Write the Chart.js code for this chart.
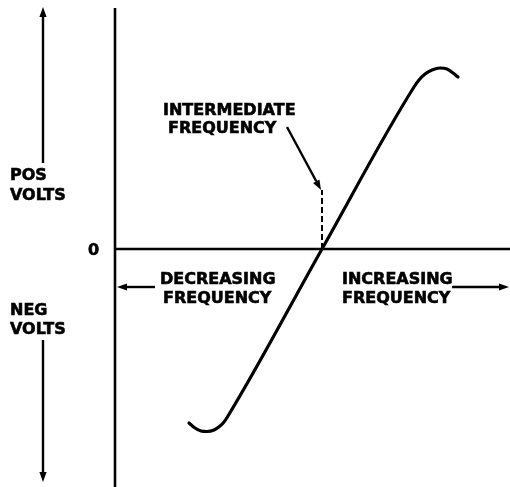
<!DOCTYPE html>
<html>
<head>
<meta charset="utf-8">
<script src="https://cdn.jsdelivr.net/npm/chart.js@4.4.0/dist/chart.umd.min.js"></script>
<style>
  html, body { margin: 0; padding: 0; background: #fff; }
  #wrap { width: 510px; height: 487px; position: relative; }
</style>
</head>
<body>
<div id="wrap"><canvas id="chart"></canvas></div>
<script>
// discriminator curve: frequency offset from the IF vs output volts (arbitrary units)
const freqOffset = [-13.3, -12.7, -12.1, -11.5, -10.8, -10.2, -9.8, -9.4, 0, 9.2, 9.7, 10.3, 11.0, 11.8, 12.5, 13.1, 13.6];
const volts      = [-17.4, -17.9, -18.2, -18.25, -18.1, -17.7, -17.3, -16.7, 0, 16.2, 16.9, 17.5, 17.9, 18.1, 18.0, 17.6, 17.2];

// axis extents
const freqRange = [-20.7, 18.8];
const voltRange = [-23.8, 24.1];
const ifMarkerTop = 5.9;

const ink = '#000';
const curve = freqOffset.map((f, i) => ({ x: f, y: volts[i] }));

// text labels and arrows, placed in data units
const labels = [
  ['POS', -31.2, 6.9], ['VOLTS', -31.2, 4.9],
  ['NEG', -31.2, -6.6], ['VOLTS', -31.2, -8.5],
  ['0', -23.4, -0.6],
  ['INTERMEDIATE', -15.9, 13.4], ['FREQUENCY', -15.4, 11.6],
  ['DECREASING', -16.2, -3.5], ['FREQUENCY', -15.9, -5.4],
  ['INCREASING', 2.0, -3.5], ['FREQUENCY', 2.0, -5.4]
];
const arrows = [
  [-27.9, 8.6, -27.9, 24.2],
  [-27.9, -9.1, -27.9, -23.3],
  [-16.7, -3.8, -20.5, -3.8],
  [13.0, -3.8, 18.7, -3.8],
  [-3.5, 12.2, -0.1, 5.9]
];

const annot = {
  id: 'annot',
  afterDatasetsDraw(chart) {
    const { ctx, scales: { x, y } } = chart;
    const px = v => x.getPixelForValue(v);
    const py = v => y.getPixelForValue(v);
    ctx.save();
    ctx.fillStyle = ink;
    ctx.strokeStyle = ink;
    ctx.font = 'bold 16px "DejaVu Sans"';
    ctx.textBaseline = 'alphabetic';
    ctx.lineWidth = 0.6;
    labels.forEach(([t, lx, ly]) => {
      ctx.fillText(t, px(lx), py(ly));
      ctx.strokeText(t, px(lx), py(ly));
    });

    ctx.lineWidth = 2.4;
    arrows.forEach(([x0, y0, x1, y1]) => {
      const ax = px(x0), ay = py(y0), bx = px(x1), by = py(y1);
      const ang = Math.atan2(by - ay, bx - ax);
      const len = 10, half = 3.6;
      const hx = bx - len * Math.cos(ang), hy = by - len * Math.sin(ang);
      ctx.beginPath();
      ctx.moveTo(ax, ay);
      ctx.lineTo(hx, hy);
      ctx.stroke();
      ctx.beginPath();
      ctx.moveTo(bx, by);
      ctx.lineTo(hx + half * Math.sin(ang), hy - half * Math.cos(ang));
      ctx.lineTo(hx - half * Math.sin(ang), hy + half * Math.cos(ang));
      ctx.closePath();
      ctx.fill();
    });
    ctx.restore();
  }
};

new Chart('chart', {
  type: 'scatter',
  data: {
    datasets: [
      {
        // vertical volts axis
        data: [{ x: freqRange[0], y: voltRange[0] }, { x: freqRange[0], y: voltRange[1] }],
        showLine: true, borderColor: ink, borderWidth: 2.6, pointRadius: 0
      },
      {
        // zero volts line
        data: [{ x: freqRange[0], y: 0 }, { x: freqRange[1], y: 0 }],
        showLine: true, borderColor: ink, borderWidth: 2.6, pointRadius: 0
      },
      {
        // IF marker
        data: [{ x: 0, y: 0 }, { x: 0, y: ifMarkerTop }],
        showLine: true, borderColor: ink, borderWidth: 2, borderDash: [6, 3], pointRadius: 0
      },
      {
        data: curve,
        showLine: true, borderColor: ink, borderWidth: 3.2, pointRadius: 0,
        cubicInterpolationMode: 'monotone', borderCapStyle: 'round'
      }
    ]
  },
  options: {
    responsive: true,
    maintainAspectRatio: false,
    animation: false,
    layout: { padding: 0 },
    plugins: { legend: { display: false }, tooltip: { enabled: false } },
    scales: {
      x: { type: 'linear', min: -32.2, max: 18.8, display: false },
      y: { type: 'linear', min: -23.8, max: 24.9, display: false }
    }
  },
  plugins: [annot]
});
</script>
</body>
</html>
